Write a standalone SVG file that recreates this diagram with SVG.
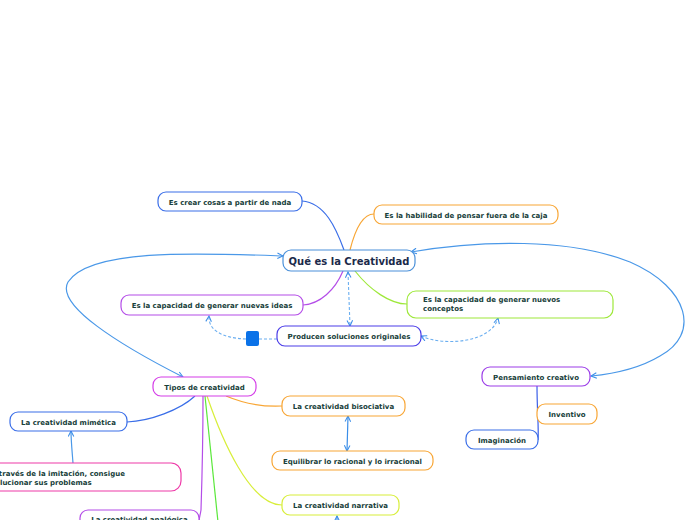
<svg xmlns="http://www.w3.org/2000/svg" width="696" height="520" viewBox="0 0 696 520">
<defs>
<marker id="arr" viewBox="0 0 10 10" refX="9" refY="5" markerWidth="7" markerHeight="7" orient="auto-start-reverse" markerUnits="userSpaceOnUse">
<path d="M1,1 L9,5 L1,9" fill="none" stroke="#3b8ee8" stroke-width="1.5"/>
</marker>
</defs>
<style>
.n{fill:#fff;stroke-width:1.2}
.t{font-family:"DejaVu Sans",Verdana,sans-serif;font-weight:bold;font-size:7px;fill:#17403a}
.c{fill:none;stroke-width:1.2}
.d{fill:none;stroke:#6aaef0;stroke-width:1.1;stroke-dasharray:3,2}
</style>
<rect width="696" height="520" fill="#fff"/>
<g id="connectors">
<path class="c" stroke="#3a6ee8" d="M302,201 C325,203 336,228 344,250"/>
<path class="c" stroke="#f8a635" d="M350,250 C355,230 362,214 374,214"/>
<path class="c" stroke="#b44de8" d="M343,271 C335,290 320,304 303,305"/>
<path class="c" stroke="#9ee83a" d="M355,271 C370,290 390,304 407,304"/>
<path class="d" d="M348,272 L350,326" marker-start="url(#arr)" marker-end="url(#arr)"/>
<path class="d" d="M259,339 L277,339"/>
<path class="d" d="M246,339 C222,338 208,330 209,316" marker-end="url(#arr)"/>
<path class="d" d="M421,336 C445,347 492,342 498,318" marker-start="url(#arr)" marker-end="url(#arr)"/>
<path class="c" stroke="#4a98e8" d="M283,256 C200,253 90,248 68,282 C55,305 120,345 183,377" marker-start="url(#arr)" marker-end="url(#arr)"/>
<path class="c" stroke="#4a98e8" d="M411,252 C480,240 570,238 630,262 C690,288 700,335 660,356 C640,368 612,374 591,376" marker-start="url(#arr)" marker-end="url(#arr)"/>
<path class="c" stroke="#3a6ee8" d="M195,396 C180,410 150,421 127,422"/>
<path class="c" stroke="#4a98e8" d="M73,463 C72,450 71,440 71,431" marker-end="url(#arr)"/>
<path class="c" stroke="#b44de8" d="M203,396 C203,440 202,480 201,510 C200,516 199,519 199,522"/>
<path class="c" stroke="#5ae83a" d="M205,396 L218,522"/>
<path class="c" stroke="#d8ee3a" d="M207,396 C222,440 250,505 282,505"/>
<path class="c" stroke="#f8a635" d="M226,396 C245,404 262,407 282,406"/>
<path class="c" stroke="#3b8ee8" d="M348,416 L347,451" marker-start="url(#arr)" marker-end="url(#arr)"/>
<path class="c" stroke="#3b8ee8" d="M337,530 L337,516" marker-end="url(#arr)"/>
<path class="c" stroke="#3a5ee8" d="M537,386 C537,410 539,430 538,440"/>
</g>
<g id="n1"><rect class="n" stroke="#3a6ee8" x="158" y="192" width="144" height="19" rx="8"/><text class="t" x="230" y="204.5" text-anchor="middle">Es crear cosas a partir de nada</text></g>
<g id="n2"><rect class="n" stroke="#f8a635" x="374" y="205" width="184" height="19" rx="8"/><text class="t" x="466" y="217.5" text-anchor="middle">Es la habilidad de pensar fuera de la caja</text></g>
<g id="n3"><rect class="n" stroke="#4a90d9" x="283" y="250" width="132" height="21" rx="8"/><text x="349" y="264.5" text-anchor="middle" style="font-family:'DejaVu Sans',Verdana,sans-serif;font-weight:bold;font-size:10px;fill:#1b2a4a">Qué es la Creatividad</text></g>
<g id="n4"><rect class="n" stroke="#b44de8" x="121" y="295" width="182" height="20" rx="8"/><text class="t" x="212" y="307.5" text-anchor="middle">Es la capacidad de generar nuevas ideas</text></g>
<g id="n5"><rect class="n" stroke="#9ee83a" x="407" y="291" width="206" height="27" rx="9"/><text class="t" x="423" y="302">Es la capacidad de generar nuevos</text><text class="t" x="423" y="310.5">conceptos</text></g>
<g id="n6"><rect class="n" stroke="#4b3de8" x="277" y="326" width="144" height="20" rx="8"/><text class="t" x="349" y="338.5" text-anchor="middle">Producen soluciones originales</text></g>
<g id="n7"><rect x="246" y="331" width="13" height="15" rx="2" fill="#0a72e8"/></g>
<g id="n8"><rect class="n" stroke="#d43de8" x="153" y="377" width="103" height="19" rx="8"/><text class="t" x="204.5" y="389.5" text-anchor="middle">Tipos de creatividad</text></g>
<g id="n9"><rect class="n" stroke="#3a6ee8" x="10" y="412" width="117" height="19" rx="8"/><text class="t" x="68.5" y="424.5" text-anchor="middle">La creatividad mimética</text></g>
<g id="n10"><rect class="n" stroke="#ee3aa8" x="-30" y="463" width="211" height="28" rx="10"/><text class="t" x="-9" y="476">A través de la imitación, consigue</text><text class="t" x="-9" y="485">solucionar sus problemas</text></g>
<g id="n11"><rect class="n" stroke="#b44de8" x="80" y="510" width="119" height="20" rx="8"/><text class="t" x="139.5" y="522" text-anchor="middle">La creatividad analógica</text></g>
<g id="n12"><rect class="n" stroke="#f8a635" x="282" y="396" width="123" height="20" rx="8"/><text class="t" x="343.5" y="408.5" text-anchor="middle">La creatividad bisociativa</text></g>
<g id="n13"><rect class="n" stroke="#f8a635" x="272" y="451" width="161" height="19" rx="8"/><text class="t" x="352.5" y="463.5" text-anchor="middle">Equilibrar lo racional y lo irracional</text></g>
<g id="n14"><rect class="n" stroke="#d8ee3a" x="282" y="495" width="117" height="20" rx="8"/><text class="t" x="340.5" y="507.5" text-anchor="middle">La creatividad narrativa</text></g>
<g id="n15"><rect class="n" stroke="#9b3de8" x="482" y="367" width="108" height="19" rx="8"/><text class="t" x="536" y="379.5" text-anchor="middle">Pensamiento creativo</text></g>
<g id="n16"><rect class="n" stroke="#f8a635" x="537" y="404" width="60" height="20" rx="8"/><text class="t" x="567" y="416.5" text-anchor="middle">Inventivo</text></g>
<g id="n17"><rect class="n" stroke="#3a6ee8" x="466" y="430" width="72" height="19" rx="8"/><text class="t" x="502" y="442.5" text-anchor="middle">Imaginación</text></g>
</svg>
